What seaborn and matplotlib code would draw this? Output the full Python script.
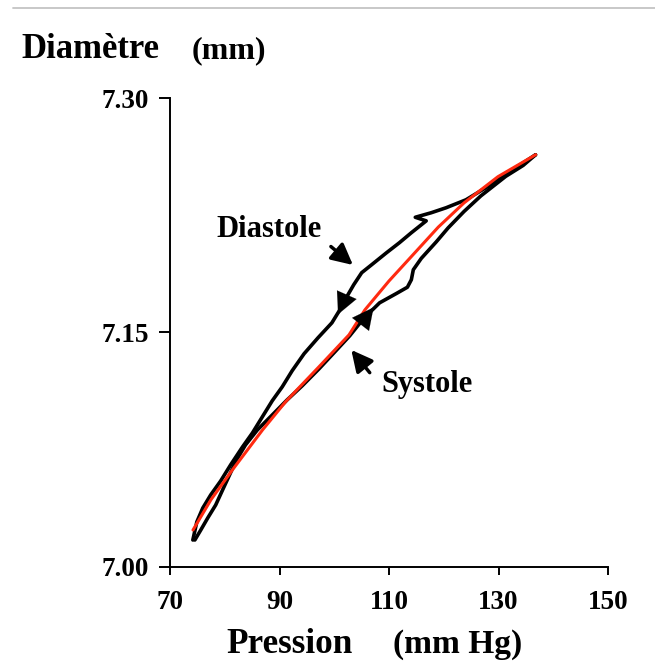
import numpy as np
import pandas as pd
import matplotlib
matplotlib.use("Agg")
import matplotlib.pyplot as plt
import seaborn as sns
from matplotlib.lines import Line2D

# ---- data ----
diastole_p = [136.76, 132.22, 128.05, 124.06, 120.43, 117.71, 114.8, 116.8, 114.08, 111.90,
              109.55, 106.83, 105.01, 103.56, 102.29, 101.02, 99.57, 97.03, 94.49, 92.31,
              90.50, 88.68, 86.87, 85.06, 83.24, 81.07, 79.25, 77.44, 75.99, 74.90, 74.17]
diastole_d = [7.2638, 7.2535, 7.2435, 7.2350, 7.2299, 7.2267, 7.2238, 7.2215, 7.2139, 7.2075,
              7.2011, 7.1934, 7.1883, 7.1806, 7.1729, 7.1645, 7.1562, 7.1466, 7.1364, 7.1255,
              7.1152, 7.1063, 7.0960, 7.0857, 7.0767, 7.0652, 7.0549, 7.0460, 7.0376, 7.0287, 7.0171]
systole_p = [74.54, 75.62, 76.89, 78.34, 79.61, 80.88, 82.15, 83.79, 85.96, 88.68, 91.41,
             94.13, 97.21, 100.11, 102.83, 105.37, 108.28, 111.36, 113.36, 114.08, 114.44,
             115.90, 118.62, 120.80, 123.70, 126.78, 131.32, 134.50, 136.76]
systole_d = [7.0171, 7.0235, 7.0312, 7.0395, 7.0492, 7.0588, 7.0684, 7.0780, 7.0876, 7.0972,
             7.1069, 7.1158, 7.1267, 7.1376, 7.1479, 7.1590, 7.1690, 7.1750, 7.1790, 7.1838,
             7.1902, 7.1975, 7.2080, 7.2170, 7.2275, 7.2375, 7.2500, 7.2570, 7.2638]
fit_p = [74.2, 77.5, 81.4, 86.9, 91.1, 97.2, 102.7, 105.6, 110.0, 114.7, 119.0, 123.7, 129.9, 136.8]
fit_d = [7.0235, 7.0430, 7.0620, 7.0876, 7.1056, 7.1280, 7.1485, 7.1645, 7.1830, 7.2010,
         7.2175, 7.2330, 7.2498, 7.2639]
x_ticks = [70, 90, 110, 130, 150]
y_ticks = [7.00, 7.15, 7.30]
y_tick_labels = ["7.00", "7.15", "7.30"]

sns.set_style("white")
plt.rcParams['font.family'] = ['Liberation Serif', 'DejaVu Serif']
plt.rcParams['text.color'] = 'black'
plt.rcParams['axes.labelcolor'] = 'black'
plt.rcParams['xtick.color'] = 'black'
plt.rcParams['ytick.color'] = 'black'

fig = plt.figure(figsize=(6.55, 6.67), dpi=100)
ax = fig.add_axes([170/655, 100.3/667, (608-170)/655, (566.7-98.3)/667])

dia = pd.DataFrame({"p": diastole_p, "d": diastole_d})
sys_ = pd.DataFrame({"p": systole_p, "d": systole_d})
fit = pd.DataFrame({"p": fit_p, "d": fit_d})

sns.lineplot(data=dia, x="p", y="d", sort=False, color="black", lw=2.6, ax=ax,
             solid_capstyle="round", solid_joinstyle="round")
sns.lineplot(data=sys_, x="p", y="d", sort=False, color="black", lw=2.6, ax=ax,
             solid_capstyle="round", solid_joinstyle="round")
sns.lineplot(data=fit, x="p", y="d", sort=False, color="#ff2a10", lw=2.2, ax=ax,
             solid_capstyle="round", solid_joinstyle="round")

ax.set_xlim(70.7, 150)
ax.set_ylim(7.00, 7.30)
ax.set_xticks(x_ticks)
ax.set_yticks(y_ticks)
ax.set_yticklabels(y_tick_labels)
ax.set_xlabel("")
ax.set_ylabel("")
ax.spines['top'].set_visible(False)
ax.spines['right'].set_visible(False)
ax.spines['bottom'].set_bounds(70, 150)
for s in ['left', 'bottom']:
    ax.spines[s].set_linewidth(1.4)
    ax.spines[s].set_color('black')
    ax.spines[s].set_clip_on(False)
ax.tick_params(axis='both', which='major', direction='out', width=1.4, color='black',
               labelsize=19.5, labelcolor='black', bottom=True, left=True)
ax.tick_params(axis='y', length=8, pad=7)
ax.tick_params(axis='x', length=6, pad=11)
for lab in ax.get_xticklabels() + ax.get_yticklabels():
    lab.set_fontweight('bold')
for t in ax.xaxis.get_major_ticks():
    t.tick1line.set_clip_on(False)
    t.label1.set_clip_on(False)

# direction arrowheads on the loop
ax.annotate("", xy=(100.5, 7.1600), xytext=(102.2, 7.1735),
            arrowprops=dict(arrowstyle="-|>,head_length=0.9,head_width=0.45",
                            color="black", lw=0.1, mutation_scale=17))
ax.annotate("", xy=(107.5, 7.1675), xytext=(105.3, 7.1575),
            arrowprops=dict(arrowstyle="-|>,head_length=0.9,head_width=0.45",
                            color="black", lw=0.1, mutation_scale=17))

# labels with pointer arrows
ax.text(78.4, 7.2113, "Diastole", fontsize=22, fontweight='bold', ha='left', va='baseline')
ax.annotate("", xy=(103.8, 7.1921), xytext=(99.0, 7.2062),
            arrowprops=dict(arrowstyle="-|>,head_length=0.75,head_width=0.38",
                            color="black", lw=2.5, mutation_scale=17))
ax.text(108.6, 7.1120, "Systole", fontsize=22, fontweight='bold', ha='left', va='baseline')
ax.annotate("", xy=(102.8, 7.1402), xytext=(106.8, 7.1229),
            arrowprops=dict(arrowstyle="-|>,head_length=0.75,head_width=0.38",
                            color="black", lw=2.5, mutation_scale=17))

# axis titles
fig.text(21.7/655, (667-58.3)/667, "Diamètre", fontsize=25, fontweight='bold',
         ha='left', va='baseline')
fig.text(192/655, (667-58.3)/667, "(mm)", fontsize=23, fontweight='bold',
         ha='left', va='baseline')
fig.text(226.7/655, (667-652.7)/667, "Pression", fontsize=25.3, fontweight='bold',
         ha='left', va='baseline')
fig.text(392.7/655, (667-652.7)/667, "(mm Hg)", fontsize=24, fontweight='bold',
         ha='left', va='baseline')

# thin grey rule at the top
fig.add_artist(Line2D([13/655, 1.0], [1 - 8/667, 1 - 8/667], color='#c4c4c4', lw=1.3))

fig.savefig("out.png", dpi=100)
